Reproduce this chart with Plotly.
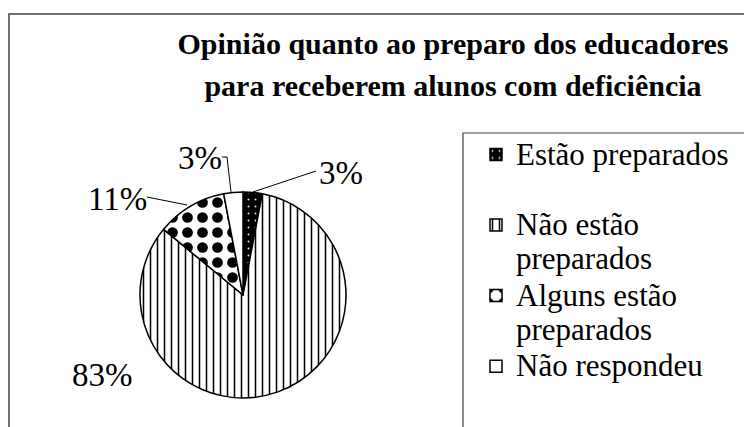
import plotly.graph_objects as go

W, H = 744, 427

# ---- data ----
categories = ["Estão preparados", "Não estão preparados", "Alguns estão preparados", "Não respondeu"]
legend_labels = ["Estão preparados\u00a0<br>\u00a0", "Não estão<br>preparados", "Alguns estão<br>preparados", "Não respondeu"]
values = [3, 83, 11, 3]
title_lines = ["Opinião quanto ao preparo dos educadores", "para receberem alunos com deficiência"]

# ---- styles ----
bg_colors = ["#000000", "#ffffff", "#ffffff", "#ffffff"]
pat_shapes = [".", "|", ".", ""]
pat_fg = ["#bff4f4", "#000000", "#000000", "#000000"]
pat_size = [7, 7, 15, 8]
pat_solid = [0.06, 0.22, 0.4, 0.1]

SERIF = "Liberation Serif"

def px(x):
    return x / W

def py(y):
    return 1 - y / H

# pie geometry in pixels
cx, cy, r = 243, 295, 103

fig = go.Figure()
fig.add_trace(go.Pie(
    labels=[f'<span style="font-size:31px">{t}</span>' for t in legend_labels],
    values=values,
    sort=False,
    direction="clockwise",
    rotation=0,
    textinfo="none",
    hoverinfo="percent",
    marker=dict(
        colors=bg_colors,
        line=dict(color="#000000", width=1.5),
        pattern=dict(shape=pat_shapes, fgcolor=pat_fg, bgcolor=bg_colors,
                     size=pat_size, solidity=pat_solid, fillmode="replace"),
    ),
    domain=dict(x=[px(cx - r), px(cx + r)], y=[py(cy + r), py(cy - r)]),
))

# percentage labels (layout positions)
total = sum(values)
label_pos = [(341, 173), (103, 375), (117, 199), (200, 158)]
annotations = []
for v, (lx, ly) in zip(values, label_pos):
    annotations.append(dict(
        x=px(lx), y=py(ly), xref="paper", yref="paper",
        text=f"{round(100 * v / total)}%", showarrow=False,
        font=dict(family=SERIF, size=33, color="#000000"),
        xanchor="center", yanchor="middle",
    ))

def seg(points):
    d = "M " + " L ".join(f"{px(x):.4f},{py(y):.4f}" for x, y in points)
    return dict(type="path", path=d, xref="paper", yref="paper",
                line=dict(color="#000000", width=1))

shapes = [
    # outer chart border
    dict(type="rect", xref="paper", yref="paper", x0=px(9), y0=py(460), x1=px(780), y1=py(14),
         line=dict(color="#404040", width=1.5), fillcolor="rgba(0,0,0,0)", layer="below"),
    # legend box
    dict(type="rect", xref="paper", yref="paper", x0=px(463), y0=py(460), x1=px(780), y1=py(133),
         line=dict(color="#404040", width=1.2), fillcolor="rgba(0,0,0,0)", layer="below"),
    # leader lines
    seg([(253, 192), (316, 171)]),
    seg([(231, 192), (227, 157), (222, 157)]),
    seg([(147, 197), (187, 205)]),
]

fig.update_layout(
    width=W, height=H,
    margin=dict(l=0, r=0, t=0, b=0),
    paper_bgcolor="#ffffff",
    plot_bgcolor="#ffffff",
    font=dict(family=SERIF, color="#000000"),
    title=dict(
        text="<br>".join(f'<span style="font-size:30px">{t}</span>' for t in title_lines),
        x=px(453), xanchor="center",
        y=py(54), yanchor="top",
        font=dict(family=SERIF, size=32, color="#000000", weight="bold"),
    ),
    showlegend=True,
    legend=dict(
        x=px(476), y=py(131), xanchor="left", yanchor="top",
        font=dict(family=SERIF, size=26, color="#000000"),
        valign="top",
        bgcolor="rgba(0,0,0,0)",
        tracegroupgap=0,
    ),
    annotations=annotations,
    shapes=shapes,
)

fig.write_html(
    "out.html",
    config={"displayModeBar": False},
    post_script="document.body.style.margin='0';document.body.style.overflow='hidden';",
)
